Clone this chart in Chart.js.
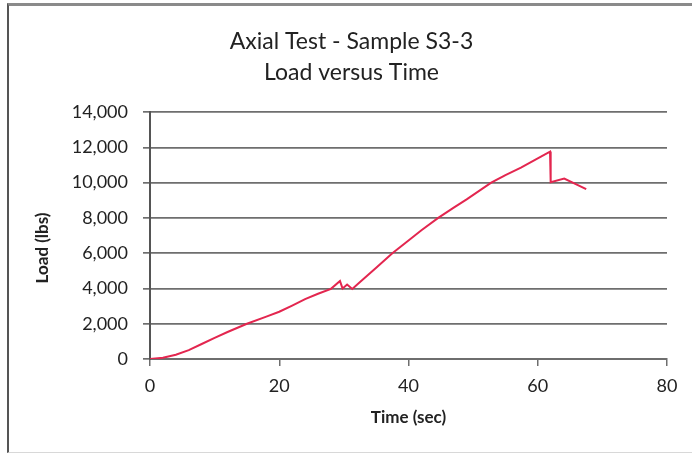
<!DOCTYPE html>
<html>
<head>
<meta charset="utf-8">
<script src="https://cdn.jsdelivr.net/npm/chart.js@4/dist/chart.umd.min.js"></script>
<style>
  html, body { margin: 0; padding: 0; background: #fff; }
  #wrap { position: relative; width: 692px; height: 455px; }
  #frame {
    position: absolute; left: 7px; top: 3px; right: 0; bottom: 2px;
    border-top: 3px solid #8a8a8a;
    border-left: 2px solid #555;
    border-bottom: 1px solid #d8d8d8;
    pointer-events: none;
  }
</style>
</head>
<body>
<div id="wrap">
  <canvas id="chart" width="692" height="455"></canvas>
  <div id="frame"></div>
</div>
<script>
// Load vs time.
const TITLE_LINES = ["Axial Test - Sample S3-3", "Load versus Time"];
const X_TICKS = [0, 20, 40, 60, 80];
const Y_TICKS = [0, 2000, 4000, 6000, 8000, 10000, 12000, 14000];

const timeSec = [
  0, 2, 4, 6, 8, 10, 12, 15, 18, 20, 22, 24, 26, 28,
  29.4, 29.8, 30.5, 31.3, 32.5, 35, 37.5, 40, 42, 44.6,
  47, 49, 52.8, 55, 57.4, 60, 61.9, 62.0, 64.1, 67.5,
];
const loadLbs = [
  0, 70, 240, 500, 850, 1200, 1530, 2000, 2400, 2680, 3030, 3400, 3700, 3980,
  4420, 4000, 4220, 3970, 4360, 5180, 6000, 6720, 7300, 8000,
  8580, 9050, 10000, 10430, 10850, 11380, 11760, 10020, 10230, 9630,
];

const FONT = "Lato, 'Open Sans', sans-serif";
const INK = "#222";
const GRID = "#6e6e6e";

const points = timeSec.map((t, i) => ({ x: t, y: loadLbs[i] }));

// The title sits a little right of the plot centre in the original.
const titleShift = {
  id: "titleShift",
  afterLayout(chart) {
    const t = chart.titleBlock;
    if (t) { t.left += 18; t.right += 18; }
  },
};

new Chart(document.getElementById("chart").getContext("2d"), {
  type: "scatter",
  data: {
    datasets: [{
      data: points,
      showLine: true,
      borderColor: "#e3264f",
      backgroundColor: "#e3264f",
      borderWidth: 2,
      pointRadius: 0,
      tension: 0,
    }],
  },
  plugins: [titleShift],
  options: {
    responsive: false,
    animation: false,
    layout: { padding: { left: 0, right: 25, top: 0, bottom: 0 } },
    plugins: {
      legend: { display: false },
      tooltip: { enabled: false },
      title: {
        display: true,
        text: TITLE_LINES,
        color: INK,
        font: { family: FONT, size: 23, weight: "normal", lineHeight: 1.35 },
        padding: { top: 26, bottom: 24 },
      },
    },
    scales: {
      x: {
        type: "linear",
        min: 0, max: 80,
        afterBuildTicks: s => { s.ticks = X_TICKS.map(v => ({ value: v })); },
        afterFit: s => { s.height = 96; },
        ticks: { color: INK, padding: 9, font: { family: FONT, size: 18 } },
        grid: { drawOnChartArea: false, drawTicks: true, tickLength: 7, color: GRID, lineWidth: 1.5 },
        border: { display: true, color: GRID, width: 2 },
        title: {
          display: true, text: "Time (sec)", color: INK,
          font: { family: FONT, size: 17, weight: "bold", lineHeight: 1.2 },
          padding: { top: 0, bottom: 27 },
        },
      },
      y: {
        min: 0, max: 14000,
        afterBuildTicks: s => { s.ticks = Y_TICKS.map(v => ({ value: v })); },
        afterFit: s => { s.width = 150; },
        ticks: {
          color: INK, padding: 15, font: { family: FONT, size: 18 },
          callback: v => Number(v).toLocaleString("en-US"),
        },
        grid: { drawTicks: true, tickLength: 7, color: GRID, lineWidth: 1.7 },
        border: { display: true, color: "#555", width: 2 },
        title: {
          display: true, text: "Load (lbs)      ", color: INK,
          font: { family: FONT, size: 17, weight: "bold", lineHeight: 1.2 },
          padding: { top: 32, bottom: 0 },
        },
      },
    },
  },
});
</script>
</body>
</html>
